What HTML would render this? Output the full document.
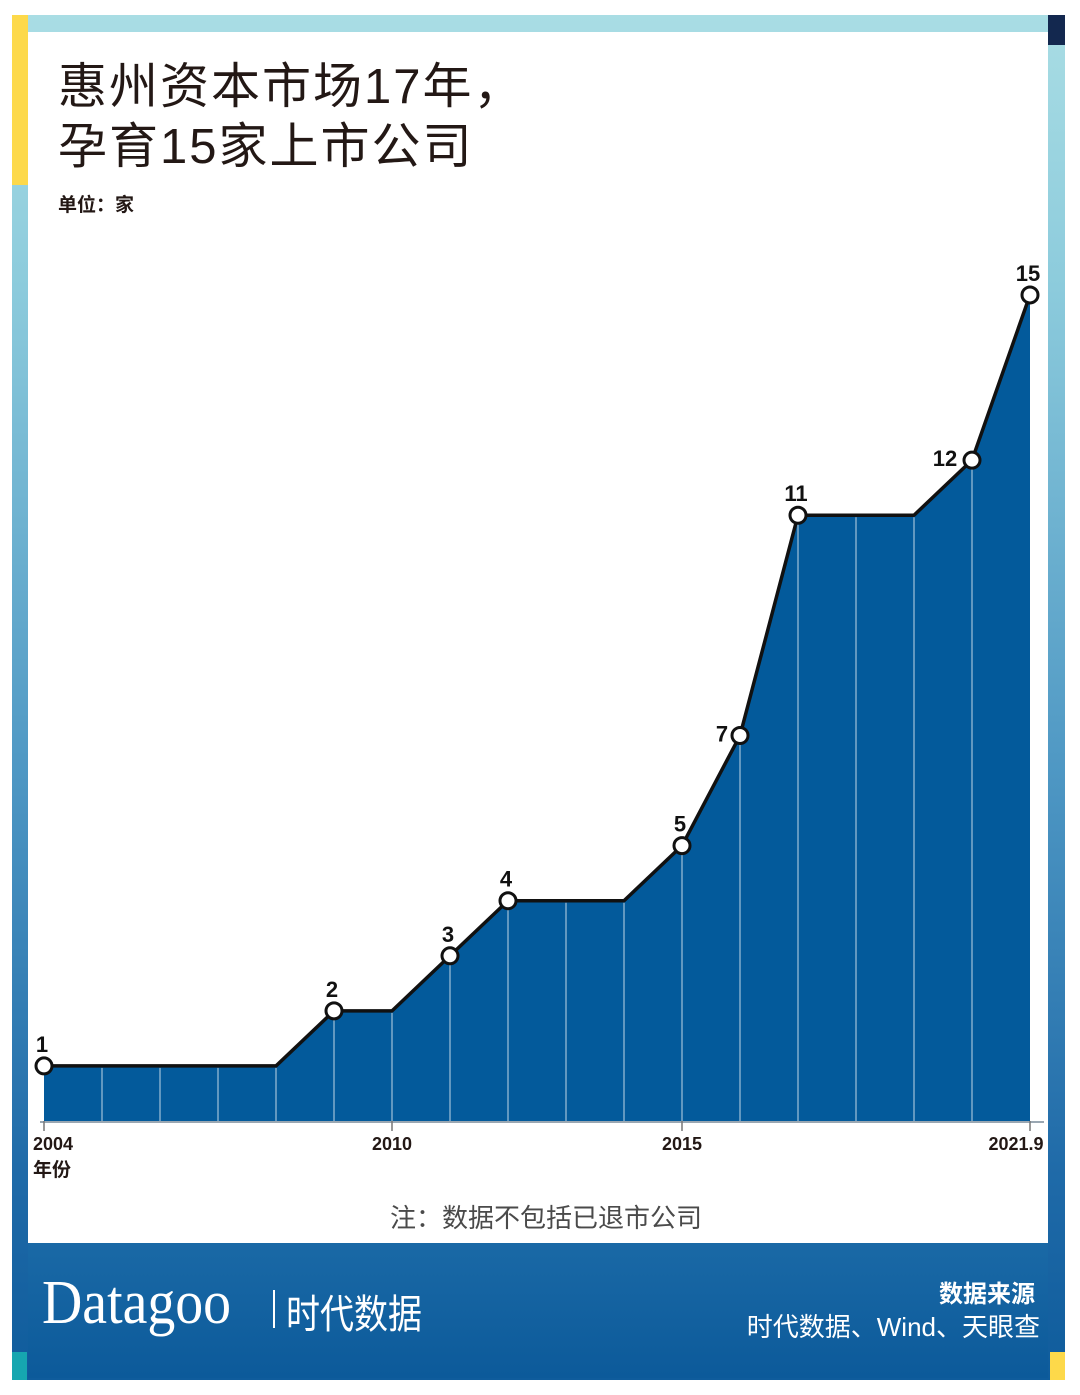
<!DOCTYPE html>
<html><head><meta charset="utf-8">
<style>
html,body{margin:0;padding:0;background:#fff;}
body{width:1080px;height:1395px;position:relative;overflow:hidden;font-family:"Liberation Sans","Noto Sans CJK SC",sans-serif;}
.abs{position:absolute;}
</style></head>
<body>
<div class="abs" style="left:12px;top:15px;width:1053px;height:1365px;background:linear-gradient(#a9dde4 0%,#8ccbdc 20%,#4f98c4 55%,#1f6aa8 85%,#0f5c9c 100%);"></div>
<div class="abs" style="left:12px;top:15px;width:16px;height:170px;background:#fdd94a;"></div>
<div class="abs" style="left:1048px;top:15px;width:17px;height:30px;background:#13284f;"></div>
<div class="abs" style="left:12px;top:1352px;width:15px;height:28px;background:#16a6b0;"></div>
<div class="abs" style="left:1050px;top:1352px;width:15px;height:28px;background:#fdd94a;"></div>
<div class="abs" style="left:28px;top:1243px;width:1020px;height:135px;background:linear-gradient(#1a69a6,#0c5a9a);"></div>
<div class="abs" style="left:28px;top:32px;width:1020px;height:1211px;background:#fff;"></div>

<div class="abs" style="left:58px;top:57px;font-size:49px;letter-spacing:2px;line-height:60px;color:#231815;">惠州资本市场17年，<br>孕育15家上市公司</div>
<div class="abs" style="left:58px;top:190px;font-size:19px;font-weight:bold;color:#231815;">单位：家</div>

<svg class="abs" style="left:0;top:0" width="1080" height="1395">
<g id="g"></g>
</svg>

<div class="abs" style="left:33px;top:1155px;font-size:19px;font-weight:bold;color:#231815;">年份</div>
<div class="abs" style="left:390px;top:1198px;font-size:26px;color:#4a4a4a;">注：数据不包括已退市公司</div>

<div class="abs" style="left:42px;top:1268px;font-family:'Liberation Serif',serif;font-size:62px;color:#fff;transform:scaleX(0.9);transform-origin:left;">Datagoo</div>
<div class="abs" style="left:273px;top:1290px;width:2px;height:38px;background:#fff;"></div>
<div class="abs" style="left:286px;top:1282px;font-size:40px;color:#fff;transform:scaleX(0.85);transform-origin:left;">时代数据</div>
<div class="abs" style="right:45px;top:1274px;font-size:24px;font-weight:bold;color:#fff;">数据来源</div>
<div class="abs" style="right:40px;top:1307px;font-size:26px;color:#fff;">时代数据、Wind、天眼查</div>

<script>
const years = [2004,2005,2006,2007,2008,2009,2010,2011,2012,2013,2014,2015,2016,2017,2018,2019,2020,2021.9];
const values = [1,1,1,1,1,2,2,3,4,4,4,5,7,11,11,11,12,15];
const markerIdx = [0,5,7,8,11,12,13,16,17];
const tickLabels = ["2004","2010","2015","2021.9"];
const tickIdx = [0,6,11,17];
const x0=44, step=58, yBase=1121, unit=55.07;
const xs = i => x0 + step*i;
const ys = v => yBase - unit*v;
const NS="http://www.w3.org/2000/svg";
const g=document.getElementById('g');
function mk(t,a){const e=document.createElementNS(NS,t);for(const k in a)e.setAttribute(k,a[k]);g.appendChild(e);return e;}
let d="M"+xs(0)+","+yBase;
values.forEach((v,i)=>{d+=" L"+xs(i)+","+ys(v);});
d+=" L"+xs(values.length-1)+","+yBase+" Z";
const area=mk('path',{d:d,fill:'#035a9b'});


values.forEach((v,i)=>{
  if(i>0&&i<values.length-1){
    const l=mk('line',{x1:xs(i),x2:xs(i),y1:ys(v)+2,y2:yBase,stroke:'#ffffff','stroke-width':1,opacity:0.75});
    
    
  }
});
let ld="";
values.forEach((v,i)=>{ld+=(i?" L":"M")+xs(i)+","+ys(v);});
const line=mk('path',{d:ld,fill:'none',stroke:'#111','stroke-width':3.5,'stroke-linejoin':'round'});


const ax=mk('line',{x1:40,x2:1044,y1:yBase+1,y2:yBase+1,stroke:'#9aa7b2','stroke-width':2});


tickIdx.forEach((ti,k)=>{
  const t=mk('line',{x1:xs(ti),x2:xs(ti),y1:yBase,y2:yBase+10,stroke:'#777','stroke-width':1.5});
  
  
  const tx=mk('text',{x:xs(ti)+(k==0?-11:k==3?-14:0),y:yBase+29,'font-size':18,'font-weight':'bold',fill:'#231815','text-anchor':k==0?'start':'middle','font-family':'Liberation Sans, sans-serif'});
  tx.textContent=tickLabels[k];
  
  
});
markerIdx.forEach(i=>{
  const v=values[i];
  const c=mk('circle',{cx:xs(i),cy:ys(v),r:8,fill:'#fff',stroke:'#111','stroke-width':3});
  
  
  const side=(v==7||v==12);
  const lx=side?xs(i)-(v==12?27:18):xs(i)-2;
  const ly=side?ys(v)+6:ys(v)-14;
  const t=mk('text',{x:lx,y:ly,'font-size':22,'font-weight':'bold',fill:'#111','text-anchor':'middle','font-family':'Liberation Sans, sans-serif'});
  t.textContent=v;
  
  
});
</script>
</body></html>
